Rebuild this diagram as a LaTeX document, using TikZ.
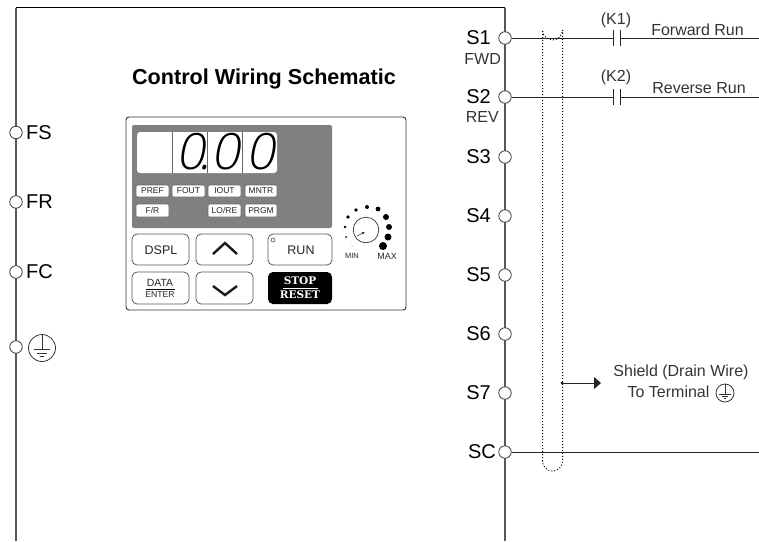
\documentclass[tikz,border=0pt]{standalone}
\usepackage{fontspec}
\setmainfont{Liberation Sans}
\newfontfamily\digitfont[FakeSlant=0.18]{Open Sans Light}
\newfontfamily\stopfont{DejaVu Serif}
\usetikzlibrary{arrows.meta}
\tikzset{
    wire/.style={line width=1pt, black!85},
    rail/.style={line width=1.3pt, black!65},
    terminal/.style={circle, draw=black!75, fill=white, line width=0.8pt, minimum size=12.5pt, inner sep=0pt},
    termlabel/.style={font=\fontsize{20}{20}\selectfont, inner sep=0pt},
    sublabel/.style={font=\fontsize{16}{16}\selectfont, black!80, inner sep=0pt},
    wirelabel/.style={font=\fontsize{16}{16}\selectfont, black!80, inner sep=0pt},
    led/.style={draw=black!60, fill=white, rounded corners=1.5pt, line width=0.6pt},
    ledtext/.style={font=\fontsize{8.5}{8.5}\selectfont, inner sep=0pt, black!85},
    digit/.style={inner sep=0pt, font=\digitfont\fontsize{50}{50}\selectfont},
    keybox/.style={draw=black!65, fill=white, rounded corners=5pt, line width=0.8pt},
    keytext/.style={font=\fontsize{12.5}{12.5}\selectfont, inner sep=0pt, black!85},
    stoptext/.style={font=\stopfont\bfseries\fontsize{10.5}{10.5}\selectfont, inner sep=0pt, white},
    chevron/.style={line width=2.4pt, black!90, miter limit=4},
    knobdot/.style={fill=black},
    earth/.pic={
        \draw[line width=0.8pt, black!80] (0,0) circle(#1);
        \draw[line width=0.8pt, black!80] (0,-#1) -- (0,0.12*#1);
        \draw[line width=0.8pt, black!80] (-0.62*#1,0.12*#1) -- (0.62*#1,0.12*#1);
        \draw[line width=0.8pt, black!80] (-0.35*#1,0.37*#1) -- (0.35*#1,0.37*#1);
        \draw[line width=0.8pt, black!80] (-0.12*#1,0.62*#1) -- (0.12*#1,0.62*#1);
    }
}

\begin{document}
\begin{tikzpicture}[x=1pt, y=-1pt]
\useasboundingbox (0,0) rectangle (759,541);
% Drive outline
    \coordinate (cornerL) at (16,7.5);
    \coordinate (cornerR) at (505,7.5);
    \coordinate (bottomL) at (16,541);
    \coordinate (bottomR) at (505,541);
    \draw[rail] (bottomL) -- (cornerL);
    \draw[rail] (cornerR) -- (bottomR);
    \draw[wire, black] (cornerL) -- (cornerR);
% Title
    \node[inner sep=0pt, font=\bfseries\fontsize{21.6}{22}\selectfont] (title) at (264,79) {Control Wiring Schematic};
% Left terminals
    \node[terminal] (fs) at (16,132.5) {};
    \node[terminal] (fr) at (16,202) {};
    \node[terminal] (fc) at (16,272) {};
    \node[terminal] (gnd) at (16,347) {};
    \node[termlabel, anchor=west] (fslabel) at (26,132.5) {FS};
    \node[termlabel, anchor=west] (frlabel) at (26,202) {FR};
    \node[termlabel, anchor=west] (fclabel) at (26,272) {FC};
    \pic at (42,348) {earth=13.5};
% Right terminals
    \node[terminal] (s1) at (505,38) {};
    \node[terminal] (s2) at (505,97) {};
    \node[terminal] (s3) at (505,157) {};
    \node[terminal] (s4) at (505,216) {};
    \node[terminal] (s5) at (505,275) {};
    \node[terminal] (s6) at (505,334) {};
    \node[terminal] (s7) at (505,393) {};
    \node[terminal] (sc) at (505,452) {};
    \node[termlabel, anchor=east] (s1label) at (491,38) {S1};
    \node[termlabel, anchor=east] (s2label) at (491,97) {S2};
    \node[termlabel, anchor=east] (s3label) at (491,157) {S3};
    \node[termlabel, anchor=east] (s4label) at (491,216) {S4};
    \node[termlabel, anchor=east] (s5label) at (491,275) {S5};
    \node[termlabel, anchor=east] (s6label) at (491,334) {S6};
    \node[termlabel, anchor=east] (s7label) at (491,393) {S7};
    \node[termlabel, anchor=east] (sclabel) at (496,452) {SC};
    \node[sublabel, anchor=east] (fwdlabel) at (501,59) {FWD};
    \node[sublabel, anchor=east] (revlabel) at (499,117) {REV};
% Wiring
    \coordinate (k1l) at (613,38);
    \coordinate (k1r) at (620,38);
    \coordinate (k2l) at (613,97);
    \coordinate (k2r) at (620,97);
    \coordinate (fwdend) at (759,38);
    \coordinate (revend) at (759,97);
    \coordinate (scend) at (759,452);
    \draw[wire] (s1) -- (k1l);
    \draw[wire] (k1r) -- (fwdend);
    \draw[wire] (s2) -- (k2l);
    \draw[wire] (k2r) -- (revend);
    \draw[wire] (sc) -- (scend);
    \draw[wire] ([yshift=-8pt]k1l) -- ([yshift=8pt]k1l);
    \draw[wire] ([yshift=-8pt]k1r) -- ([yshift=8pt]k1r);
    \draw[wire] ([yshift=-8pt]k2l) -- ([yshift=8pt]k2l);
    \draw[wire] ([yshift=-8pt]k2r) -- ([yshift=8pt]k2r);
    \node[wirelabel] (k1label) at (616,20) {(K1)};
    \node[wirelabel] (k2label) at (616,77) {(K2)};
    \node[wirelabel] (fwdrun) at (697.5,30) {Forward Run};
    \node[wirelabel] (revrun) at (699,88.5) {Reverse Run};
% Shield
    \draw[black, line width=1pt, dash pattern=on 1pt off 2pt] (542.5,461) -- (542.5,30) arc[start angle=180, end angle=0, radius=10] -- (562.5,461) arc[start angle=0, end angle=180, radius=10];
    \coordinate (shieldtap) at (562,383);
    \coordinate (shieldtip) at (601,383);
    \fill (shieldtap) circle(1.5);
    \draw[wire, -{Triangle[length=7pt, width=12pt]}] (shieldtap) -- (shieldtip);
    \node[wirelabel] (shieldtext) at (681,372) {Shield (Drain Wire)};
    \node[wirelabel] (shieldterm) at (668.5,392) {To Terminal};
    \pic at (725,393) {earth=9};
% Operator panel
    \draw[line width=0.9pt, black!80, fill=white, rounded corners=3pt] (126,117) rectangle (406,310);
    \fill[black!50, rounded corners=2pt] (132,125) rectangle (332,228);
% Digit windows
    \fill[white, rounded corners=3pt] (137,132) rectangle (277,173);
    \draw[black!60, line width=0.7pt] (172,132) -- (172,173);
    \draw[black!60, line width=0.7pt] (207,132) -- (207,173);
    \draw[black!60, line width=0.7pt] (242,132) -- (242,173);
    \node[digit] (digita) at (193.3,152) {0\kern-7pt.};
    \node[digit] (digitb) at (226,152) {0};
    \node[digit] (digitc) at (261,152) {0};
% Status lamps
    \draw[led] (136,185) rectangle (169,197);
    \draw[led] (172,185) rectangle (205,197);
    \draw[led] (208,185) rectangle (241,197);
    \draw[led] (245,185) rectangle (277,197);
    \draw[led] (136,204) rectangle (169,217);
    \draw[led] (208,204) rectangle (241,217);
    \draw[led] (245,204) rectangle (277,217);
    \node[ledtext] (pref) at (152.5,191) {PREF};
    \node[ledtext] (fout) at (188.5,191) {FOUT};
    \node[ledtext] (iout) at (224.5,191) {IOUT};
    \node[ledtext] (mntr) at (261,191) {MNTR};
    \node[ledtext] (fwdrev) at (152.5,210.5) {F/R};
    \node[ledtext] (lore) at (224.5,210.5) {LO/RE};
    \node[ledtext] (prgm) at (261,210.5) {PRGM};
% Keys
    \draw[keybox] (132,234) rectangle (189,265);
    \draw[keybox] (196,234) rectangle (253,265);
    \draw[keybox] (268,234) rectangle (332,265);
    \draw[keybox] (132,272) rectangle (189,304);
    \draw[keybox] (196,272) rectangle (253,304);
    \fill[black, rounded corners=5pt] (268,272) rectangle (332,304);
    \node[keytext] (dspl) at (161,250) {DSPL};
    \node[keytext] (run) at (301,250) {RUN};
    \draw[black!70, line width=0.6pt] (273,240) circle(2);
    \draw[chevron] (213,254) -- (225,243) -- (237,254);
    \draw[chevron] (213,286) -- (225,295) -- (237,286);
    \node[keytext, font=\fontsize{10.4}{10.4}\selectfont] (data) at (160,283) {DATA};
    \node[keytext, font=\fontsize{8.6}{8.6}\selectfont] (enter) at (160,295) {ENTER};
    \draw[black, line width=0.7pt] (146,289) -- (175,289);
    \node[stoptext] (stop) at (300,281) {STOP};
    \node[stoptext] (reset) at (300,295) {RESET};
    \draw[white, line width=0.8pt] (283,288) -- (318,288);
% Speed dial
    \draw[black!80, line width=0.7pt] (366,230) circle(12.8);
    \coordinate (needlefrom) at (357,236);
    \coordinate (needleto) at (365,232);
    \draw[black!80, line width=0.6pt, -{Latex[open, length=3pt, width=3pt]}] (needlefrom) -- (needleto);
    \fill[knobdot] (352,246) circle(0.4);
    \fill[knobdot] (346,237) circle(1);
    \fill[knobdot] (345,227) circle(1.3);
    \fill[knobdot] (348,217) circle(1.9);
    \fill[knobdot] (356,210) circle(1.9);
    \fill[knobdot] (367,207) circle(2);
    \fill[knobdot] (378,209) circle(2.4);
    \fill[knobdot] (386,217) circle(3);
    \fill[knobdot] (389,227) circle(3);
    \fill[knobdot] (388,237) circle(3.5);
    \fill[knobdot] (383,246) circle(4);
    \node[ledtext, font=\fontsize{7.5}{7.5}\selectfont] (mintext) at (352,256) {MIN};
    \node[ledtext, font=\fontsize{9}{9}\selectfont] (maxtext) at (387,256) {MAX};
\end{tikzpicture}
\end{document}
